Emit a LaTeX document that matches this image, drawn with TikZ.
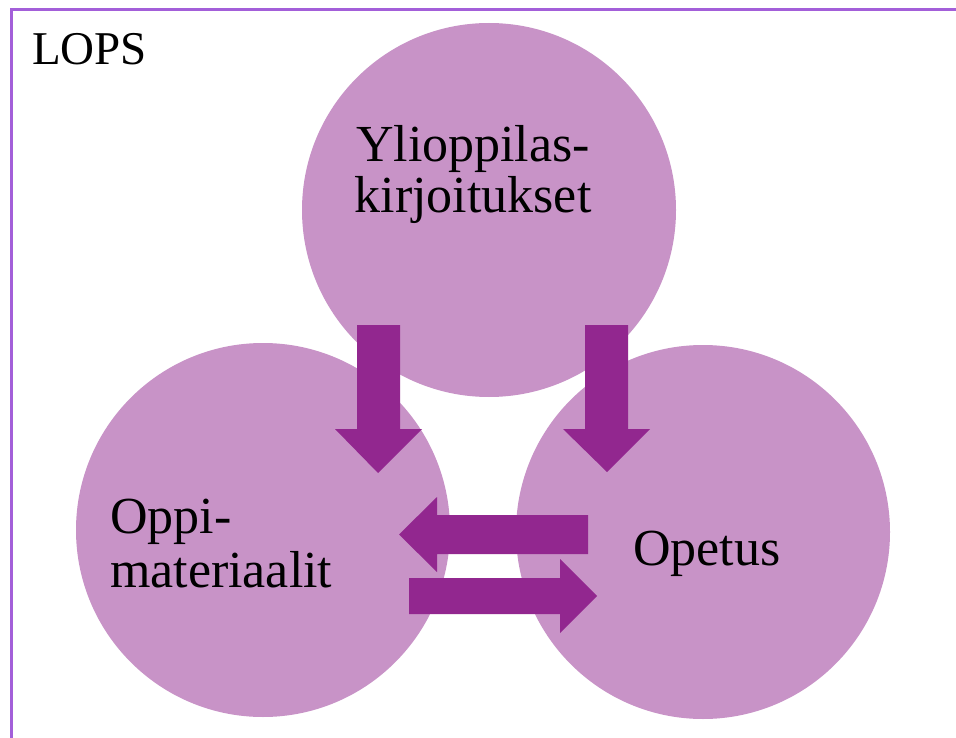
\documentclass[tikz,border=0pt]{standalone}
\usepackage{fontspec}
\setmainfont{Liberation Serif}
\definecolor{framec}{HTML}{A35FD9}
\definecolor{circc}{HTML}{C893C7}
\definecolor{arrc}{HTML}{92278F}
\tikzset{
  bubble/.style={circle, fill=circc, draw=none, minimum size=374pt, inner sep=0pt},
  bigarrow/.style={fill=arrc, draw=none},
  lbl/.style={inner sep=0pt, outer sep=0pt, font=\fontsize{52}{52}\selectfont, text=black},
}
\begin{document}
\begin{tikzpicture}[x=1pt,y=-1pt]
\useasboundingbox (0,0) rectangle (956,738);
\clip (0,0) rectangle (956,738);
\fill[white] (0,0) rectangle (956,738);
\draw[framec, line width=3pt] (11,10) rectangle (1000,800);
\node[inner sep=0pt, anchor=base west, font=\fontsize{47}{47}\selectfont] (lops) at (32,65) {LOPS};
% circles
\node[bubble] (yo) at (489,210) {};
\node[bubble] (om) at (263,530) {};
\node[bubble] (op) at (703,532) {};
% labels
\node[lbl, anchor=base] (yo1) at (473,162) {Ylioppilas-};
\node[lbl, anchor=base] (yo2) at (473,213) {kirjoitukset};
\node[lbl, anchor=base west] (om1) at (110,533) {Oppi-};
\node[lbl, anchor=base west] (om2) at (110,587) {materiaalit};
\node[lbl, anchor=base west] (op1) at (633,565) {Opetus};
% arrows
\fill[bigarrow] (357,325) -- (400,325) -- (400,429) -- (422,429) -- (378,473) -- (335,429) -- (357,429) -- cycle;
\fill[bigarrow] (585,325) -- (628,325) -- (628,429) -- (650,429) -- (607,472) -- (563,429) -- (585,429) -- cycle;
\fill[bigarrow] (588,515) -- (588,554) -- (437,554) -- (437,572) -- (399,534.5) -- (437,497) -- (437,515) -- cycle;
\fill[bigarrow] (409,578) -- (560,578) -- (560,559) -- (597,596) -- (560,633) -- (560,614) -- (409,614) -- cycle;
\end{tikzpicture}
\end{document}
